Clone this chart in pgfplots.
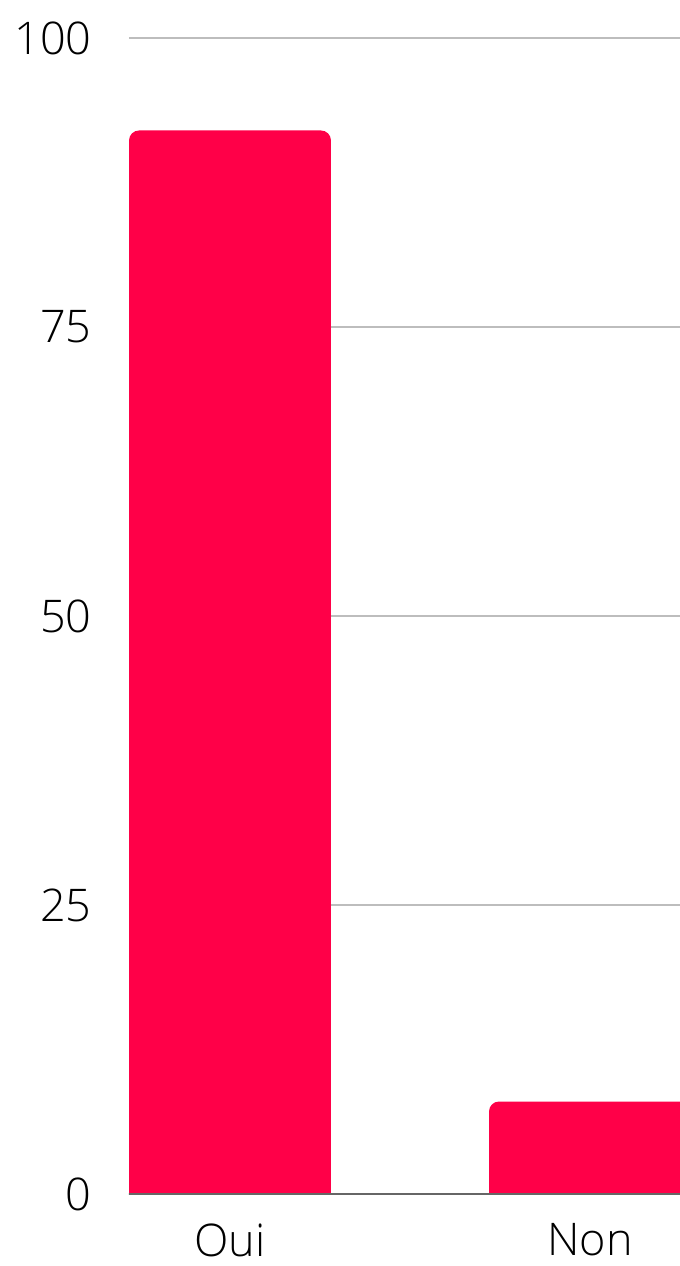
\documentclass[border=0pt]{standalone}
\usepackage{fontspec}
\setmainfont{Open Sans}[UprightFont=* Light]
\usepackage{pgfplots}
\pgfplotsset{compat=1.18}
\definecolor{barRed}{HTML}{FF0048}
\definecolor{gridGray}{HTML}{BDBDBD}
\definecolor{baseGray}{HTML}{666666}

\begin{document}
\begin{tikzpicture}
\begin{axis}[
  at={(0,0)}, anchor=south west,
  scale only axis,
  width=275.5pt, height=578pt,
  xmin=-0.2806, xmax=1.25,
  ymin=0, ymax=100,
  xtick={0,1}, xticklabels={Oui,Non},
  ytick={0,25,50,75,100},
  major tick length=0pt,
  axis line style={draw=none},
  ymajorgrids,
  grid style={gridGray, line width=1pt},
  font=\fontsize{22.5}{27}\selectfont,
  /pgf/number format/assume math mode=true,
  yticklabel style={anchor=east, inner sep=0pt, xshift=-18.5pt},
  xticklabel style={anchor=north, inner sep=0pt, yshift=-14.5pt},
  ybar, bar width=0.561,
]
% full bars, rounded tops
\addplot[fill=barRed, draw=none, rounded corners=5pt, bar shift=0] coordinates {
  (0, 92)
  (1, 8)
};
% square off the bottom corners
\addplot[fill=barRed, draw=none, bar shift=0] coordinates {
  (0, 46)
  (1, 4)
};
% baseline
\addplot[sharp plot, baseGray, line width=1pt, mark=none] coordinates {
  (-0.5, 0)
  (1.5, 0)
};
\end{axis}
\pgfresetboundingbox
\path (-64.5pt,-36pt) rectangle (275.5pt,597pt);
\end{tikzpicture}
\end{document}
